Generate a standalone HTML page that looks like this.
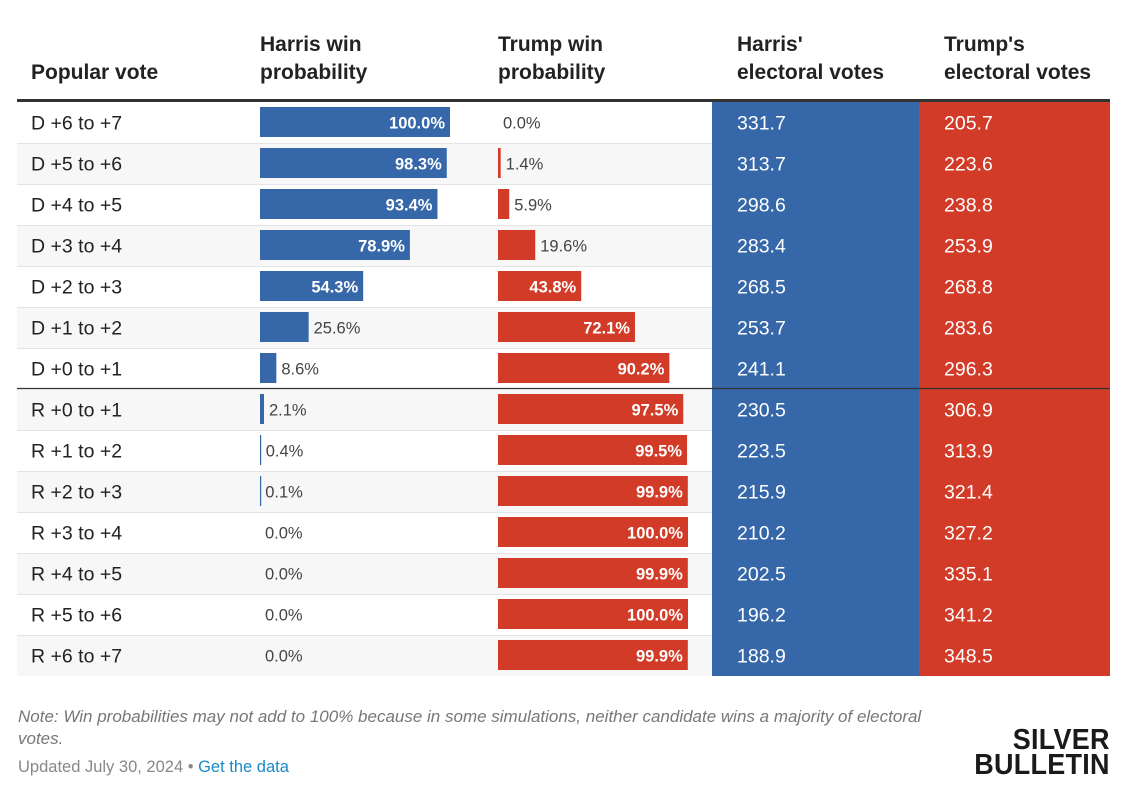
<!DOCTYPE html>
<html><head><meta charset="utf-8"><style>
body{margin:0;width:1138px;height:785px;background:#fff;font-family:"Liberation Sans",sans-serif;position:relative;overflow:hidden;color:#222}
.h{position:absolute;font-weight:bold;font-size:21px;line-height:28px;color:#222}
.note{position:absolute;left:18px;top:706px;width:950px;font-style:italic;font-size:17px;color:#777;line-height:22px}
.upd{position:absolute;left:18px;top:758px;font-size:16.5px;color:#888}
.upd a{color:#1a8ac6;text-decoration:none}
.logo{position:absolute;font-weight:bold;font-size:29px;line-height:25px;color:#1a1a1a;text-align:right;transform:scaleX(0.93);transform-origin:right top;right:28px;top:728px;letter-spacing:0.3px}
</style></head><body>
<div class="h" style="left:31px;top:59px">Popular vote</div>
<div class="h" style="left:260px;top:31px">Harris win<br>probability</div>
<div class="h" style="left:498px;top:31px">Trump win<br>probability</div>
<div class="h" style="left:737px;top:31px">Harris'<br>electoral votes</div>
<div class="h" style="left:944px;top:31px">Trump's<br>electoral votes</div>
<svg id="tbl" width="1138" height="785" style="position:absolute;left:0;top:0"></svg>
<div class="note">Note: Win probabilities may not add to 100% because in some simulations, neither candidate wins a majority of electoral votes.</div>
<div class="upd">Updated July 30, 2024 • <a href="#">Get the data</a></div>
<div class="logo">SILVER<br>BULLETIN</div>
<script>
const labels=["D +6 to +7","D +5 to +6","D +4 to +5","D +3 to +4","D +2 to +3","D +1 to +2","D +0 to +1","R +0 to +1","R +1 to +2","R +2 to +3","R +3 to +4","R +4 to +5","R +5 to +6","R +6 to +7"];
const harrisProb=[100.0,98.3,93.4,78.9,54.3,25.6,8.6,2.1,0.4,0.1,0.0,0.0,0.0,0.0];
const trumpProb=[0.0,1.4,5.9,19.6,43.8,72.1,90.2,97.5,99.5,99.9,100.0,99.9,100.0,99.9];
const harrisEV=[331.7,313.7,298.6,283.4,268.5,253.7,241.1,230.5,223.5,215.9,210.2,202.5,196.2,188.9];
const trumpEV=[205.7,223.6,238.8,253.9,268.8,283.6,296.3,306.9,313.9,321.4,327.2,335.1,341.2,348.5];
const svg=document.getElementById('tbl');const NS="http://www.w3.org/2000/svg";
const BLUE="#3667a9",RED="#d13b27",top0=102,rowH=41,barW=190;
function el(t,a,p){const e=document.createElementNS(NS,t);for(const k in a)e.setAttribute(k,a[k]);(p||svg).appendChild(e);return e;}
function txt(x,y,s,o){const e=el('text',Object.assign({x:x,y:y,'font-size':16.5,fill:'#333','font-family':'Liberation Sans, sans-serif'},o||{}));e.textContent=s;return e;}
const xs=v=>v/100*barW;
labels.forEach((lab,i)=>{
  const y=top0+i*rowH,cy=y+rowH/2+7;
  const bg=el('rect',{x:17,y:y,width:695,height:rowH,fill:i%2?'#f7f7f7':'#fff'});
  
  
  if(i>0&&i!==7){el('line',{x1:17,x2:712,y1:y+0.5,y2:y+0.5,stroke:'#e4e4e4'});}
  const t=txt(31,cy,lab,{'font-size':19.5,fill:'#222'});
  
  
  [[260,harrisProb[i],BLUE],[498,trumpProb[i],RED]].forEach(([x0,v,c])=>{
    const w=xs(v);
    if(v>0){const b=el('rect',{x:x0,y:y+5,width:Math.max(w,1.2),height:30,fill:c});
      
      }
    const s=v.toFixed(1)+'%';
    let tl;
    if(v>=40){tl=txt(x0+w-5,cy-1,s,{'text-anchor':'end',fill:'#fff','font-weight':'bold'});}
    else{tl=txt(x0+Math.max(w,0)+5,cy-1,s,{fill:'#444'});}
    
    
  });
  const hb=el('rect',{x:712,y:y,width:207,height:rowH,fill:BLUE});
  
  
  const tb=el('rect',{x:919,y:y,width:191,height:rowH,fill:RED});
  
  
  txt(737,cy,harrisEV[i].toFixed(1),{'font-size':19.5,fill:'#fff'});
  txt(944,cy,trumpEV[i].toFixed(1),{'font-size':19.5,fill:'#fff'});
});
el('rect',{x:17,y:99,width:1093,height:3,fill:'#333'});
el('line',{x1:17,x2:1110,y1:388.5,y2:388.5,stroke:'#333','stroke-width':1.3});
</script>
</body></html>
